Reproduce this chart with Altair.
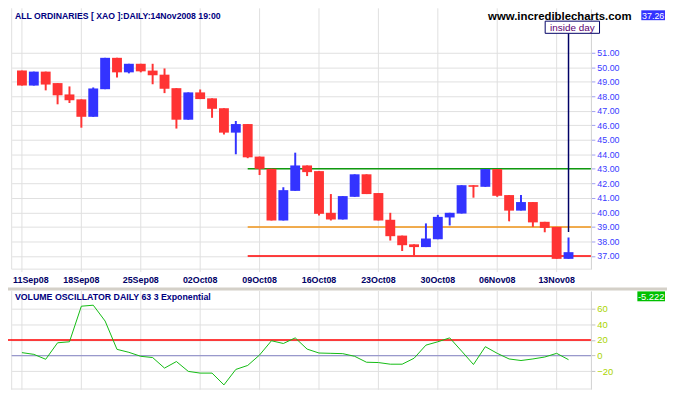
import altair as alt
import pandas as pd

# ---------------- data ----------------
open_ = [49.76, 48.73, 49.69, 48.90, 48.12, 47.78, 46.58, 48.48, 50.64, 49.64,
         50.23, 49.76, 49.48, 48.55, 46.38, 48.26, 47.85, 47.17, 45.49, 46.08,
         43.84, 43.00, 39.44, 41.48, 43.23, 42.84, 39.97, 39.51, 41.07, 42.62,
         41.33, 39.49, 38.40, 37.80, 37.61, 38.15, 39.65, 39.92, 41.87, 41.76,
         42.98, 41.19, 40.12, 40.71, 39.35, 39.00, 36.80]
high = [49.76, 49.69, 49.69, 48.90, 48.67, 47.78, 48.60, 50.64, 50.64, 50.23,
        50.23, 50.23, 49.91, 48.55, 48.26, 48.46, 47.85, 47.17, 46.29, 46.08,
        43.84, 43.00, 41.73, 44.11, 43.23, 42.84, 41.26, 41.12, 42.62, 42.62,
        41.33, 39.97, 38.40, 37.80, 39.24, 39.83, 39.97, 41.87, 41.87, 42.98,
        42.98, 41.19, 41.19, 40.71, 39.35, 39.00, 38.27]
low = [48.73, 48.73, 48.40, 47.44, 47.53, 45.83, 46.58, 48.48, 49.28, 49.57,
       49.64, 48.82, 48.21, 45.77, 46.38, 47.80, 46.51, 45.36, 44.00, 43.73,
       42.57, 39.44, 39.44, 41.48, 42.50, 39.79, 39.44, 39.51, 41.07, 41.26,
       39.44, 38.06, 37.34, 37.03, 37.61, 38.15, 39.10, 39.92, 41.01, 41.76,
       41.07, 39.38, 40.12, 39.00, 38.63, 36.80, 36.80]
close = [48.73, 49.69, 48.80, 48.06, 47.72, 46.58, 48.53, 50.64, 49.64, 50.23,
         49.71, 49.44, 48.51, 46.38, 48.26, 47.80, 47.13, 45.49, 46.08, 43.79,
         43.00, 39.44, 41.53, 43.23, 42.77, 39.90, 39.51, 41.12, 42.62, 41.26,
         39.44, 38.36, 37.74, 37.61, 38.20, 39.69, 39.97, 41.87, 41.76, 42.98,
         41.14, 40.12, 40.71, 39.31, 38.93, 36.80, 37.26]
osc = [3.8, 1.6, -4.7, 16.4, 17.7, 63.2, 64.5, 44.2, 8.0, 4.2,
       -0.9, -2.5, -16.0, -7.6, -20.2, -22.4, -22.4, -37.5, -17.7, -12.6,
       0.8, 19.0, 15.5, 22.7, 8.3, 3.3, 2.9, 2.5, -0.9, -8.5,
       -8.9, -11.0, -11.0, -3.4, 13.4, 17.7, 22.7, 5.8, -11.4, 11.4,
       2.9, -4.3, -6.3, -4.3, -1.8, 2.9, -5.222]

tick_idx = [0, 5, 10, 15, 20, 25, 30, 35, 40, 45]
tick_labels = ["11Sep08", "18Sep08", "25Sep08", "02Oct08", "09Oct08",
               "16Oct08", "23Oct08", "30Oct08", "06Nov08", "13Nov08"]
price_ticks = [51, 50, 49, 48, 47, 46, 45, 44, 43, 42, 41, 40, 39, 38, 37]
osc_ticks = [60, 40, 20, 0, -20]
level_prices = [43, 39, 37]
level_colors = ["#109a10", "#f09418", "#ff0000"]
level_start = [19, 19, 19]
annot_idx = [46]
annot_price = [38.65]

title_main = "ALL ORDINARIES [ XAO ]:DAILY:14Nov2008 19:00"
title_osc = "VOLUME OSCILLATOR DAILY 63 3 Exponential"
site = "www.incrediblecharts.com"
last_price = "37.26"
last_osc = "-5.222"
annot_text = "inside day"

# ---------------- layout ----------------
W = 586.3
H = 384
FONT = "Liberation Sans"
GRID = "#e0e0e0"

n = len(close)
df = pd.DataFrame({"i": list(range(n)), "o": open_, "h": high, "l": low,
                   "c": close, "osc": osc})
df["dir"] = ["up" if c >= o else "down" for o, c in zip(open_, close)]

ticks_df = pd.DataFrame({"i": tick_idx, "lab": tick_labels})
first_tick_df = ticks_df.iloc[:1]
other_ticks_df = ticks_df.iloc[1:]
lev_df = pd.DataFrame({"p": level_prices, "col": level_colors, "start": level_start})
ann_df = pd.DataFrame({"i": annot_idx, "p": annot_price})
one = pd.DataFrame({"k": [0]})

xs = alt.Scale(domain=[-0.45, 47.47], nice=False, zero=False)
ys_top = alt.Scale(domain=[36.09, 54.0], range=[262, -1.3], nice=False, zero=False)
ys_bot = alt.Scale(domain=[-43, 82.8], range=[383.5, 284], nice=False, zero=False)


def X(f):
    return alt.X(f, type="quantitative", scale=xs, axis=None)


color = alt.Color("dir:N", scale=alt.Scale(domain=["up", "down"],
                                           range=["#3333ff", "#ff3333"]), legend=None)

axis_top = alt.Axis(orient="right", values=price_ticks, format=".2f",
                    labelColor="#3a3aff", labelFont=FONT, labelFontSize=9,
                    labelPadding=2, tickSize=4, tickColor="#a0a0f0",
                    domainColor="#d0d0d0", grid=True, gridColor=GRID, title=None)
axis_bot = alt.Axis(orient="right", values=osc_ticks, format="d",
                    labelColor="#aad400", labelFont=FONT, labelFontSize=9.5,
                    labelPadding=2, tickSize=4, tickColor="#c0c0c0",
                    domainColor="#d0d0d0", grid=True, gridColor=GRID, title=None)

# grid / frame
vgrid_top = alt.Chart(ticks_df).mark_rule(color=GRID, strokeWidth=1).encode(
    x=X("i"), y=alt.value(-2), y2=alt.value(265))
vgrid_bot = alt.Chart(ticks_df).mark_rule(color=GRID, strokeWidth=1).encode(
    x=X("i"), y=alt.value(284), y2=alt.value(384))
frame_l_top = alt.Chart(one).mark_rule(color=GRID).encode(
    x=alt.value(0), y=alt.value(-2), y2=alt.value(262))
frame_l_bot = alt.Chart(one).mark_rule(color=GRID).encode(
    x=alt.value(0), y=alt.value(284), y2=alt.value(384))
frame_b_top = alt.Chart(one).mark_rule(color=GRID).encode(
    x=alt.value(0), x2=alt.value(W), y=alt.value(262))
frame_b_bot = alt.Chart(one).mark_rule(color=GRID).encode(
    x=alt.value(0), x2=alt.value(W), y=alt.value(383.3))

# levels
levels = alt.Chart(lev_df).mark_rule(strokeWidth=1.5).encode(
    x=X("start"), x2=alt.value(W),
    y=alt.Y("p:Q", scale=ys_top, axis=None),
    color=alt.Color("col:N", scale=None))

# candles
wicks = alt.Chart(df).mark_rule(strokeWidth=2).encode(
    x=X("i"), y=alt.Y("h:Q", scale=ys_top, axis=axis_top), y2="l:Q", color=color)
bodies = alt.Chart(df).mark_bar(size=10).encode(
    x=X("i"), y=alt.Y("o:Q", scale=ys_top, axis=None), y2="c:Q", color=color)

# annotation
ann_line = alt.Chart(ann_df).mark_rule(color="#000066", strokeWidth=1.5).encode(
    x=X("i"), y=alt.Y("p:Q", scale=ys_top, axis=None), y2=alt.value(23.3))
ann_box = alt.Chart(one).mark_rect(fill="white", stroke="#000066", strokeWidth=1).encode(
    x=alt.value(540), x2=alt.value(595), y=alt.value(11), y2=alt.value(23.3))
ann_txt = alt.Chart(one).mark_text(text=annot_text, font=FONT, fontSize=10,
                                   color="#5a0070", align="center", baseline="middle").encode(
    x=alt.value(567.5), y=alt.value(17.5))

# date labels (first one kept whole at the left edge)
date_style = dict(font=FONT, fontSize=9, fontWeight="bold", color="#000066",
                  baseline="middle")
dates = alt.Chart(other_ticks_df).mark_text(align="center", **date_style).encode(
    x=X("i"), y=alt.value(273), text="lab:N")
date_first = alt.Chart(first_tick_df).mark_text(align="left", dx=-9, **date_style).encode(
    x=X("i"), y=alt.value(273), text="lab:N")

# separator
sep = alt.Chart(one).mark_rect(color="#d4d0c8").encode(
    x=alt.value(-4), x2=alt.value(664), y=alt.value(280.5), y2=alt.value(283.5))

# bottom panel lines
zero_df = pd.DataFrame({"v": [0]})
twenty_df = pd.DataFrame({"v": [20]})
zero_line = alt.Chart(zero_df).mark_rule(color="#9999cc", strokeWidth=1.2).encode(
    x=alt.value(0), x2=alt.value(W), y=alt.Y("v:Q", scale=ys_bot, axis=None))
red20 = alt.Chart(twenty_df).mark_rule(color="#ff0000", strokeWidth=1.5).encode(
    x=alt.value(-4), x2=alt.value(W), y=alt.Y("v:Q", scale=ys_bot, axis=None))
osc_line = alt.Chart(df).mark_line(color="#11bb11", strokeWidth=1).encode(
    x=X("i"), y=alt.Y("osc:Q", scale=ys_bot, axis=axis_bot))

# texts
t_main = alt.Chart(one).mark_text(text=title_main, font=FONT, fontSize=8.8,
                                  fontWeight="bold", color="#000080",
                                  align="left", baseline="top").encode(
    x=alt.value(3.3), y=alt.value(1.5))
t_site = alt.Chart(one).mark_text(text=site, font=FONT, fontSize=11.5,
                                  fontWeight="bold", color="#000000",
                                  align="center", baseline="top").encode(
    x=alt.value(554.8), y=alt.value(0.5))
box_price = alt.Chart(one).mark_rect(color="#3333ff").encode(
    x=alt.value(637.3), x2=alt.value(661.3), y=alt.value(0), y2=alt.value(10))
t_price = alt.Chart(one).mark_text(text=last_price, font=FONT, fontSize=9,
                                   color="white", align="center",
                                   baseline="middle").encode(
    x=alt.value(649.3), y=alt.value(5.3))
t_osc = alt.Chart(one).mark_text(text=title_osc, font=FONT, fontSize=8.9,
                                 fontWeight="bold", color="#000080",
                                 align="left", baseline="middle").encode(
    x=alt.value(3.3), y=alt.value(290))
box_osc = alt.Chart(one).mark_rect(color="#00c000").encode(
    x=alt.value(633.3), x2=alt.value(661.3), y=alt.value(284.5), y2=alt.value(294.5))
t_oscv = alt.Chart(one).mark_text(text=last_osc, font=FONT, fontSize=9.5,
                                  color="white", align="center",
                                  baseline="middle").encode(
    x=alt.value(647.3), y=alt.value(289.8))

chart = alt.layer(
    vgrid_top, vgrid_bot, frame_l_top, frame_l_bot, frame_b_top, frame_b_bot,
    levels, wicks, bodies, ann_line, ann_box, ann_txt, dates, date_first, sep,
    zero_line, red20, osc_line,
    t_main, t_site, box_price, t_price, t_osc, box_osc, t_oscv
).resolve_scale(y="independent").properties(
    width=W, height=H,
    autosize=alt.AutoSizeParams(type="none"),
    padding={"left": 3.7, "top": 0, "right": 77, "bottom": 0},
    background="white"
).configure_view(stroke=None)

chart.save("out.html", embed_options={"renderer": "svg", "actions": False})
